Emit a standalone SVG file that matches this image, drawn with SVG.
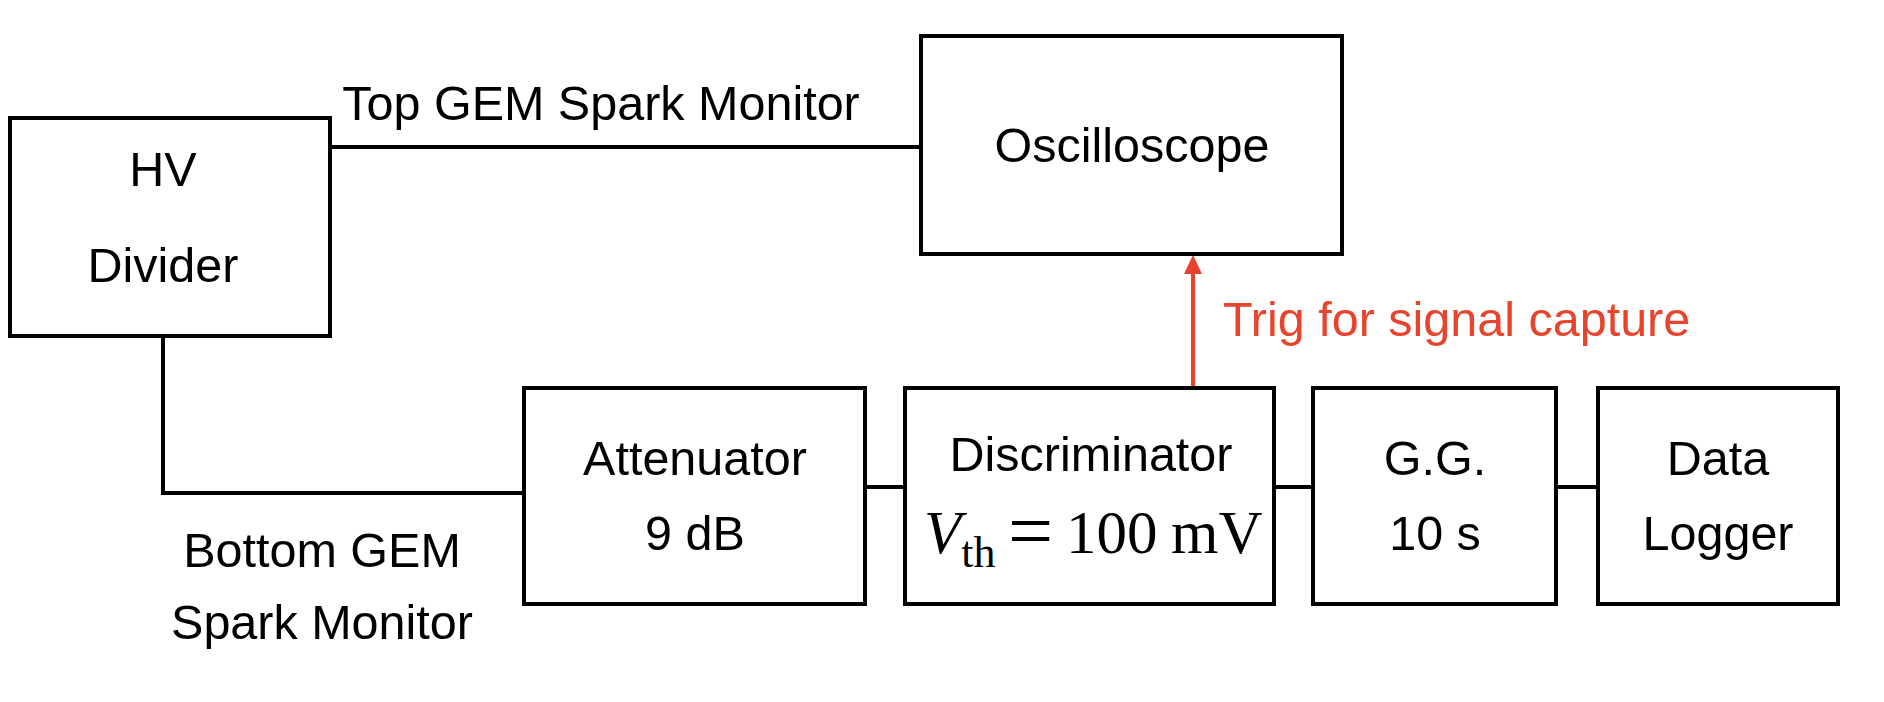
<svg xmlns="http://www.w3.org/2000/svg" width="1884" height="702" viewBox="0 0 1884 702">
<style>
.box{fill:#fff;stroke:#000;stroke-width:4}
.t{font-family:"Liberation Sans",Arial,sans-serif;font-size:48.5px;fill:#000;text-anchor:middle}
.c{stroke:#000;stroke-width:4;fill:none}
.red{fill:#e8432c}
.m{font-family:"Liberation Serif","Times New Roman",serif;font-size:61px;fill:#000}
</style>
<rect width="1884" height="702" fill="#fff"/>
<g id="connectors">
<polyline class="c" points="330,147 921,147"/>
<polyline class="c" points="163,336 163,493 524,493"/>
<line class="c" x1="865" y1="487" x2="905" y2="487"/>
<line class="c" x1="1274" y1="487" x2="1313" y2="487"/>
<line class="c" x1="1556" y1="487" x2="1598" y2="487"/>
<line x1="1193" y1="388" x2="1193" y2="272" stroke="#e8432c" stroke-width="4"/>
<polygon class="red" points="1193,255 1184,274 1202,274"/>
<text class="t" x="601" y="120">Top GEM Spark Monitor</text>
<text class="t" x="322" y="567">Bottom GEM</text>
<text class="t" x="322" y="639">Spark Monitor</text>
<text class="t red" x="1223" y="336" style="text-anchor:start">Trig for signal capture</text>
</g>
<g id="hv">
<rect class="box" x="10" y="118" width="320" height="218"/>
<text class="t" x="163" y="186">HV</text>
<text class="t" x="163" y="282">Divider</text>
</g>
<g id="osc">
<rect class="box" x="921" y="36" width="421" height="218"/>
<text class="t" x="1132" y="162">Oscilloscope</text>
</g>
<g id="att">
<rect class="box" x="524" y="388" width="341" height="216"/>
<text class="t" x="695" y="475">Attenuator</text>
<text class="t" x="695" y="550">9 dB</text>
</g>
<g id="disc">
<rect class="box" x="905" y="388" width="369" height="216"/>
<text class="t" x="1091" y="471">Discriminator</text>
<text class="m" x="924" y="553"><tspan font-style="italic">V</tspan><tspan font-size="44" dy="14">th</tspan><tspan x="1008" dy="-9" font-size="80">=</tspan><tspan x="1066" dy="-5">100</tspan><tspan x="1171">mV</tspan></text>
</g>
<g id="gg">
<rect class="box" x="1313" y="388" width="243" height="216"/>
<text class="t" x="1435" y="475">G.G.</text>
<text class="t" x="1435" y="550">10 s</text>
</g>
<g id="dl">
<rect class="box" x="1598" y="388" width="240" height="216"/>
<text class="t" x="1718" y="475">Data</text>
<text class="t" x="1718" y="550">Logger</text>
</g>
</svg>
